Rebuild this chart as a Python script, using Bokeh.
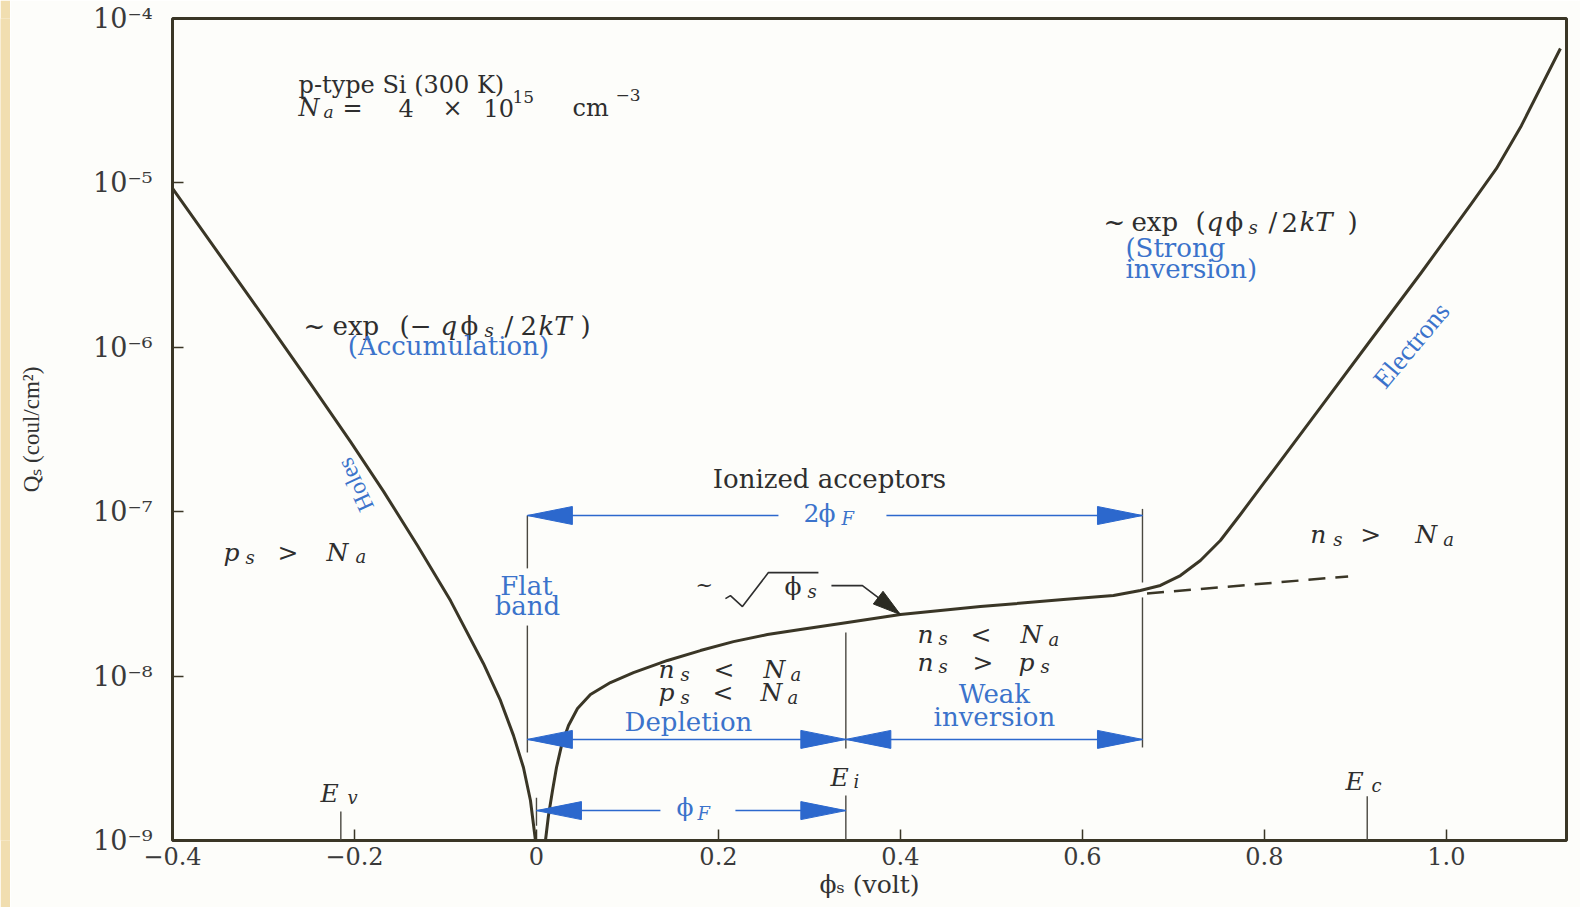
import math

from bokeh.core.properties import value
from bokeh.embed import file_html
from bokeh.layouts import row
from bokeh.models import FixedTicker, Range1d
from bokeh.plotting import figure
from bokeh.resources import INLINE

# ---------------------------------------------------------------------------
# Surface charge Q_s (C/cm^2) versus surface potential phi_s (V)
# p-type Si, 300 K, N_a = 4e15 cm^-3
# ---------------------------------------------------------------------------

# accumulation branch (holes), phi_s < 0
hole_phi = [-0.400, -0.2956, -0.2484, -0.2044, -0.1681, -0.1308,
            -0.0945, -0.0582, -0.0396, -0.0253, -0.0143, -0.0066, -0.0011]
hole_q = [9.25e-6, 1.42e-6, 6.02e-7, 2.67e-7, 1.33e-7, 6.23e-8,
          2.88e-8, 1.19e-8, 7.11e-9, 4.36e-9, 2.78e-9, 1.75e-9, 1.0e-9]

# depletion -> weak inversion -> strong inversion (electrons), phi_s > 0
inv_phi = [0.0099, 0.0132, 0.0176, 0.0220, 0.0275, 0.0352, 0.0451, 0.0593,
           0.0813, 0.1066, 0.1440, 0.1802, 0.2165, 0.2538, 0.2901, 0.3418,
           0.4000, 0.4879, 0.5791, 0.6341, 0.6637, 0.6857, 0.7077, 0.7297,
           0.7516, 0.7736, 0.7989, 0.8615, 0.9165, 0.9725, 1.0275, 1.0549,
           1.0824, 1.1253]
inv_q = [1.0e-9, 1.42e-9, 2.01e-9, 2.78e-9, 3.78e-9, 5.01e-9, 6.35e-9,
         7.73e-9, 9.14e-9, 1.05e-8, 1.245e-8, 1.43e-8, 1.62e-8, 1.79e-8,
         1.92e-8, 2.12e-8, 2.37e-8, 2.65e-8, 2.92e-8, 3.09e-8, 3.32e-8,
         3.56e-8, 4.09e-8, 5.05e-8, 6.68e-8, 9.62e-8, 1.48e-7, 4.30e-7,
         1.10e-6, 2.85e-6, 7.49e-6, 1.22e-5, 2.23e-5, 6.57e-5]

# ionized-acceptor charge continued past 2*phi_F (dashed)
acc_ext_phi = [0.671, 0.892]
acc_ext_q = [3.18e-8, 4.04e-8]

# characteristic potentials (V)
phi_flat_band = -0.01
phi_ev = -0.215
phi_ei = 0.34        # phi_F
phi_2f = 0.666       # 2 phi_F
phi_ec = 0.913

x_ticks = [-0.4, -0.2, 0.0, 0.2, 0.4, 0.6, 0.8, 1.0]
x_tick_labels = ["−0.4", "−0.2", "0", "0.2", "0.4", "0.6", "0.8", "1.0"]
y_ticks = [1e-9, 1e-8, 1e-7, 1e-6, 1e-5, 1e-4]
y_tick_labels = ["10⁻⁹", "10⁻⁸", "10⁻⁷", "10⁻⁶", "10⁻⁵", "10⁻⁴"]

# ---------------------------------------------------------------------------
# styling
# ---------------------------------------------------------------------------
INK = "#3a3626"
THIN = "#4a4840"
TEXT = "#2e2e2e"
BLUE = "#3b73cb"
ARROW = "#2c68cd"
BG = "#fdfdfa"
STRIP = "#f1deb0"
SERIF = "DejaVu Serif"
TIMES = "Liberation Serif"
BASELINE_NUDGE = -8   # px, lifts alphabetic-baseline text onto its line

X_LO, X_HI = -0.4, 1.132
Q_LO, Q_HI = 1e-9, 1e-4
FRAME_W, FRAME_H = 1394, 822


def shift(x, y, dx=0.0, dy=0.0):
    """Move a data point by (dx, dy) screen pixels; dy > 0 moves down."""
    kx = (X_HI - X_LO) / FRAME_W
    ky = math.log10(Q_HI / Q_LO) / FRAME_H
    return x + dx * kx, y * 10 ** (-dy * ky)


p = figure(width=1570, height=907,
           x_range=Range1d(X_LO, X_HI), y_range=Range1d(Q_LO, Q_HI),
           y_axis_type="log", output_backend="svg", toolbar_location=None,
           min_border_left=162, min_border_right=14,
           min_border_top=18, min_border_bottom=67,
           background_fill_color=BG, border_fill_color=BG,
           outline_line_color=INK, outline_line_width=3)
p.grid.visible = False

p.xaxis.ticker = FixedTicker(ticks=x_ticks)
p.yaxis.ticker = FixedTicker(ticks=y_ticks)
p.xaxis.major_label_overrides = dict(zip(x_ticks, x_tick_labels))
p.yaxis.major_label_overrides = dict(zip(y_ticks, y_tick_labels))

for ax in (p.xaxis[0], p.yaxis[0]):
    ax.axis_line_color = None
    ax.major_tick_in = 11
    ax.major_tick_out = 0
    ax.minor_tick_in = 0
    ax.minor_tick_out = 0
    ax.major_tick_line_color = INK
    ax.major_tick_line_width = 1.5
    ax.major_label_text_font = SERIF
    ax.major_label_text_color = "#3a3a3a"
    ax.axis_label_text_font_style = "normal"
    ax.axis_label_text_color = "#333333"

p.xaxis.major_label_text_font_size = "24px"
p.xaxis.major_label_standoff = 6
p.xaxis.axis_label = "ϕₛ (volt)"
p.xaxis.axis_label_text_font = SERIF
p.xaxis.axis_label_text_font_size = "25px"
p.xaxis.axis_label_standoff = 2

p.yaxis.major_label_text_font_size = "27px"
p.yaxis.major_label_standoff = 20
p.yaxis.axis_label = "Qₛ (coul/cm²)"
p.yaxis.axis_label_text_font = TIMES
p.yaxis.axis_label_text_font_size = "23px"
p.yaxis.axis_label_standoff = 46

# ---------------------------------------------------------------------------
# curves
# ---------------------------------------------------------------------------
p.line(hole_phi, hole_q, line_color=INK, line_width=3, line_join="round")
p.line(inv_phi, inv_q, line_color=INK, line_width=3, line_join="round")
p.line(acc_ext_phi, acc_ext_q, line_color=INK, line_width=2.5, line_dash="17 10")

# region dividers and band-edge markers
div_x0, div_y0, div_x1, div_y1 = [], [], [], []


def vline(x, q_top, q_bot):
    div_x0.append(x)
    div_x1.append(x)
    div_y0.append(q_top)
    div_y1.append(q_bot)


vline(phi_flat_band, 9.48e-8, 4.52e-8)
vline(phi_flat_band, 2.03e-8, 3.43e-9)
vline(0.0, 1.82e-9, 1.23e-9)
vline(phi_ei, 1.84e-8, 3.63e-9)
vline(phi_ei, 1.88e-9, Q_LO)
vline(phi_2f, 1.04e-7, 3.71e-8)
vline(phi_2f, 3.01e-8, 3.68e-9)
vline(phi_ev, 1.50e-9, Q_LO)
vline(phi_ec, 1.86e-9, Q_LO)
p.segment(div_x0, div_y0, div_x1, div_y1, line_color=THIN, line_width=1.4)

# ---------------------------------------------------------------------------
# dimension arrows
# ---------------------------------------------------------------------------
q_2f_row = 9.48e-8
q_region_row = 4.12e-9
q_phif_row = 1.52e-9

head_xs, head_ys = [], []


def head(x_tip, q, direction, length=45, half=9):
    xb, _ = shift(x_tip, q, -direction * length, 0)
    _, qu = shift(x_tip, q, 0, -half)
    _, qd = shift(x_tip, q, 0, half)
    head_xs.append([x_tip, xb, xb])
    head_ys.append([q, qu, qd])


seg_x0, seg_y0, seg_x1, seg_y1 = [], [], [], []


def hseg(xa, xb, q):
    seg_x0.append(xa)
    seg_x1.append(xb)
    seg_y0.append(q)
    seg_y1.append(q)


# 2 phi_F (flat band -> onset of strong inversion), label gap in the middle
lbl_2f_x, lbl_2f_q = 0.2934, 8.72e-8
hseg(phi_flat_band, shift(lbl_2f_x, q_2f_row, -25)[0], q_2f_row)
hseg(shift(lbl_2f_x, q_2f_row, 83)[0], phi_2f, q_2f_row)
head(phi_flat_band, q_2f_row, -1)
head(phi_2f, q_2f_row, +1)

# depletion and weak inversion
hseg(phi_flat_band, phi_ei, q_region_row)
hseg(phi_ei, phi_2f, q_region_row)
head(phi_flat_band, q_region_row, -1)
head(phi_ei, q_region_row, +1)
head(phi_ei, q_region_row, -1)
head(phi_2f, q_region_row, +1)

# phi_F (0 -> E_i)
lbl_f_x, lbl_f_q = 0.1538, 1.42e-9
hseg(0.0, shift(lbl_f_x, q_phif_row, -16)[0], q_phif_row)
hseg(shift(lbl_f_x, q_phif_row, 59)[0], phi_ei, q_phif_row)
head(0.0, q_phif_row, -1)
head(phi_ei, q_phif_row, +1)

p.segment(seg_x0, seg_y0, seg_x1, seg_y1, line_color=ARROW, line_width=1.5)
p.patches(head_xs, head_ys, fill_color=ARROW, line_color=ARROW, line_width=1)

# ---------------------------------------------------------------------------
# text
# ---------------------------------------------------------------------------


def pt(t, dx, dy=0, scale=1.0, style="normal"):
    return (t, dx, dy, scale, style)


def it(t, dx, dy=0):
    return (t, dx, dy, 1.0, "italic")


def sub(t, dx, dy=5):
    return (t, dx, dy, 0.7, "italic")


def sup(t, dx, dy=-11):
    return (t, dx, dy, 0.7, "normal")


def label(x, q, parts, color=TEXT, size=25, font=SERIF):
    for txt, dx, dy, scale, style in parts:
        px, pq = shift(x, q, dx, dy + BASELINE_NUDGE)
        p.text(x=[px], y=[pq], text=[txt], text_font=value(font),
               text_font_size=f"{round(size * scale)}px",
               text_font_style=style, text_color=color,
               text_align="left", text_baseline="alphabetic")


def centered(x, q, txt, color=BLUE, size=25, font=SERIF, angle=0.0,
             baseline="alphabetic", align="center"):
    if baseline == "alphabetic":
        x, q = shift(x, q, 0, BASELINE_NUDGE)
    p.text(x=[x], y=[q], text=[txt], text_font=value(font),
           text_font_size=f"{size}px", text_color=color, angle=angle,
           text_align=align, text_baseline=baseline)


# material
label(-0.2615, 3.50e-5, [pt("p-type Si (300 K)", 0)], size=24)
label(-0.2615, 2.57e-5, [it("N", 0), sub("a", 25, 4), pt("=", 44), pt("4", 100),
                         pt("×", 144), pt("10", 185), sup("15", 214, -11),
                         pt("cm", 274), sup("−3", 317, -13)], size=24)

# accumulation
label(-0.2560, 1.21e-6, [pt("~", 0), pt("exp", 29), pt("(−", 96), it("q", 137),
                         pt("ϕ", 157), sub("s", 181), pt("/", 201), pt("2", 217),
                         it("kT", 235), pt(")", 277)], size=26)
centered(-0.0967, 9.16e-7, "(Accumulation)", size=26)
centered(-0.199, 1.46e-7, "Holes", font=TIMES, size=24,
         angle=math.radians(115), baseline="middle")

# strong inversion
label(0.6231, 5.14e-6, [pt("~", 0), pt("exp", 28), pt("(", 92), it("q", 103),
                        pt("ϕ", 122), sub("s", 145), pt("/", 165), pt("2", 178),
                        it("kT", 196), pt(")", 244)], size=26)
centered(0.6473, 3.57e-6, "(Strong", align="left", size=26)
centered(0.6473, 2.66e-6, "inversion)", align="left", size=26)
centered(0.9615, 1.03e-6, "Electrons", font=TIMES, size=27,
         angle=math.radians(50), baseline="middle")

# ionized acceptors and 2 phi_F
centered(0.3220, 1.42e-7, "Ionized acceptors", color=TEXT, size=26)
label(lbl_2f_x, lbl_2f_q, [pt("2", 0), pt("ϕ", 15), sub("F", 38, 5)], color=BLUE)

# hole-dominated region
label(-0.3440, 5.05e-8, [it("p", 0), sub("s", 22), pt(">", 54), it("N", 103),
                         sub("a", 132, 4)])

# flat band
centered(-0.0110, 3.18e-8, "Flat", size=26)
centered(-0.0099, 2.37e-8, "band", size=26)

# ~ sqrt(phi_s) with leader arrow to the curve
sq_x, sq_q = 0.1747, 3.22e-8
label(sq_x, sq_q, [pt("~", 0, 0, 0.85), pt("ϕ", 89, 2), sub("s", 112, 7)])
rad = [(30, 6), (35, 3), (47, 14), (73, -20), (123, -20)]
rad_pts = [shift(sq_x, sq_q, dx, dy) for dx, dy in rad]
p.line([a for a, _ in rad_pts], [b for _, b in rad_pts], line_color=TEXT, line_width=1.6)
lead = [(136, -7), (167, -7), (204, 21)]
lead_pts = [shift(sq_x, sq_q, dx, dy) for dx, dy in lead]
p.line([a for a, _ in lead_pts], [b for _, b in lead_pts], line_color=TEXT, line_width=1.6)
tip = (205, 22)
ux, uy = 38 / math.hypot(38, 29), 29 / math.hypot(38, 29)
base = (tip[0] - 28 * ux, tip[1] - 28 * uy)
tri = [tip, (base[0] - 8 * uy, base[1] + 8 * ux), (base[0] + 8 * uy, base[1] - 8 * ux)]
tri_pts = [shift(sq_x, sq_q, dx, dy) for dx, dy in tri]
p.patch([a for a, _ in tri_pts], [b for _, b in tri_pts], fill_color="#2a2a22",
        line_color="#2a2a22")

# depletion
label(0.1341, 9.80e-9, [it("n", 0), sub("s", 22), pt("<", 55), it("N", 105),
                        sub("a", 132)])
label(0.1341, 7.11e-9, [it("p", 0), sub("s", 22), pt("<", 54), it("N", 102),
                        sub("a", 129)])
centered(0.167, 4.73e-9, "Depletion", size=26)

# weak inversion
label(0.4187, 1.60e-8, [it("n", 0), sub("s", 21, 4), pt("<", 53), it("N", 103),
                        sub("a", 131)])
label(0.4187, 1.08e-8, [it("n", 0), sub("s", 21, 4), pt(">", 55), it("p", 101),
                        sub("s", 123, 4)])
centered(0.5033, 6.91e-9, "Weak", size=26)
centered(0.5033, 5.01e-9, "inversion", size=26)

# electron-dominated region
label(0.8505, 6.50e-8, [it("n", 0), sub("s", 23), pt(">", 50), it("N", 105),
                        sub("a", 133)])

# phi_F label and band edges
label(lbl_f_x, lbl_f_q, [pt("ϕ", 0), sub("F", 21, 6)], color=BLUE)
label(-0.2374, 1.73e-9, [it("E", 0), sub("v", 27, 4)])
label(0.3231, 2.16e-9, [it("E", 0), sub("i", 23, 4)])
label(0.889, 2.04e-9, [it("E", 0), sub("c", 26, 4)])

# ---------------------------------------------------------------------------
# page: narrow decorative strip + chart
# ---------------------------------------------------------------------------
strip = figure(width=10, height=907, output_backend="svg", toolbar_location=None,
               min_border=0, x_axis_location=None, y_axis_location=None,
               background_fill_color=STRIP, border_fill_color=STRIP,
               outline_line_color=None)
strip.grid.visible = False

page = row(strip, p)

with open("out.html", "w") as f:
    f.write(file_html(page, INLINE))
